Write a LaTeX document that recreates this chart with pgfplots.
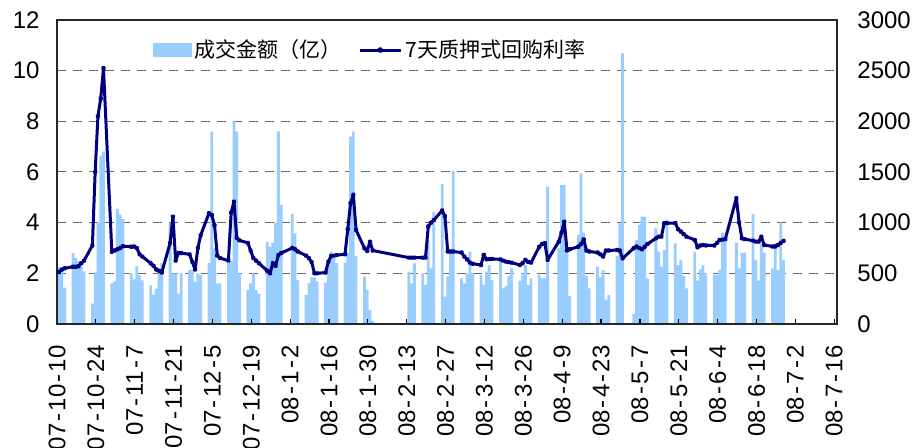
\documentclass[border=0pt]{standalone}
\usepackage{fontspec}
\setmainfont{Liberation Sans}
\newfontfamily\cjk{Noto Sans CJK SC}
\usepackage{pgfplots}
\usepackage{pgfplotstable}
\pgfplotsset{compat=1.18}

\definecolor{barblue}{RGB}{153,204,255}
\definecolor{navyline}{RGB}{0,0,128}
\definecolor{gridgray}{RGB}{105,105,105}

\newcommand{\hy}{\hspace{1.1pt}-\hspace{1.1pt}}

% trading day index d: days since 2007-10-10
\pgfplotstableread{
d v
0 560
1 540
2 360
5 700
6 650
7 620
8 560
9 520
12 200
13 510
14 1000
15 1660
16 1700
19 400
20 420
21 1135
22 1080
23 1036
26 500
27 440
28 570
29 480
30 430
33 380
34 290
35 350
36 500
37 600
40 1000
41 500
42 500
43 300
44 500
47 533
48 533
49 418
50 500
51 480
54 600
55 1898
56 747
57 401
58 401
61 600
62 620
63 2000
64 1900
65 500
68 335
69 401
70 500
71 335
72 300
75 810
76 760
77 800
78 1000
79 1900
80 1175
84 1086
85 895
86 434
89 286
90 401
91 461
92 461
93 420
96 408
97 600
98 711
99 664
100 600
103 605
104 700
105 1849
106 1898
107 671
110 467
111 336
112 138
113 30
126 517
127 401
128 599
131 500
132 385
133 829
134 549
135 1109
138 1382
139 270
140 470
141 700
142 1510
145 451
146 400
147 500
148 714
149 500
152 484
153 385
154 517
155 582
156 434
159 650
160 352
161 375
162 474
163 550
166 428
167 507
168 582
169 385
170 450
173 484
174 451
175 451
176 1355
180 747
181 1372
182 1372
183 700
184 276
187 878
188 1487
189 901
190 474
191 352
194 566
195 461
196 533
197 237
198 286
201 671
202 994
203 2671
207 99
208 829
209 977
210 1059
211 1059
212 451
215 944
216 714
217 566
218 730
219 1026
222 796
223 582
224 632
225 474
226 352
229 711
230 428
231 540
232 582
233 500
236 484
237 484
238 533
239 901
240 836
244 803
245 549
246 700
247 704
250 1086
251 632
252 428
253 796
254 704
257 549
258 796
259 533
260 1000
261 632
}\volume

\pgfplotstableread{
d v
0 2.05
1 2.15
2 2.2
5 2.26
6 2.26
7 2.28
8 2.4
9 2.5
12 3.1
13 6.0
14 8.2
15 8.9
16 10.1
19 2.85
20 2.9
21 2.95
22 3.0
23 3.07
26 3.05
27 3.06
28 3.0
29 2.75
30 2.66
33 2.4
34 2.3
35 2.15
36 2.1
37 2.03
40 3.2
41 4.24
42 2.5
43 2.8
44 2.8
47 2.75
48 2.45
49 2.15
50 3.0
51 3.5
54 4.37
55 4.3
56 3.9
57 2.7
58 2.6
61 2.5
62 4.4
63 4.83
64 3.4
65 3.3
68 3.2
69 2.9
70 2.6
71 2.5
72 2.4
75 2.1
76 2.0
77 2.4
78 2.3
79 2.72
80 2.8
84 3.0
85 2.95
86 2.86
89 2.7
90 2.6
91 2.44
92 2.0
93 2.0
96 2.03
97 2.46
98 2.69
99 2.7
100 2.72
103 2.75
104 3.74
105 4.77
106 5.1
107 3.71
110 2.99
111 2.88
112 3.25
113 2.9
126 2.62
127 2.62
128 2.62
131 2.62
132 2.62
133 3.85
134 4.0
135 4.1
138 4.48
139 4.26
140 2.86
141 2.86
142 2.86
145 2.82
146 2.66
147 2.55
148 2.42
149 2.38
152 2.33
153 2.73
154 2.55
155 2.56
156 2.57
159 2.55
160 2.5
161 2.46
162 2.44
163 2.42
166 2.33
167 2.4
168 2.53
169 2.45
170 2.42
173 3.05
174 3.16
175 3.19
176 2.53
180 3.25
181 3.6
182 4.04
183 2.9
184 2.95
187 3.05
188 3.15
189 3.34
190 2.9
191 2.86
194 2.82
195 2.75
196 2.66
197 2.9
198 2.9
201 2.92
202 2.9
203 2.59
207 2.99
208 3.06
209 3.0
210 2.95
211 3.05
212 3.16
215 3.38
216 3.45
217 3.45
218 3.98
219 3.98
222 3.98
223 3.74
224 3.65
225 3.55
226 3.45
229 3.32
230 3.03
231 3.1
232 3.12
233 3.1
236 3.1
237 3.2
238 3.32
239 3.33
240 3.35
244 4.97
245 4.0
246 3.38
247 3.35
250 3.29
251 3.25
252 3.25
253 3.45
254 3.12
257 3.06
258 3.06
259 3.12
260 3.2
261 3.28
}\repo

\pgfplotsset{
  twin/.style={
    scale only axis,
    width=390pt, height=152pt,
    at={(0pt,0pt)}, anchor=south west,
    xmin=0, xmax=281,
    tick label style={font=\fontsize{12}{14}\selectfont},
    /pgf/number format/assume math mode=true,
    /pgf/number format/1000 sep={},
    scaled y ticks=false,
  }
}

\begin{document}
\begin{tikzpicture}
% volume bars on the right axis, drawn first
\begin{axis}[twin,
  ymin=0, ymax=3000, ytick={0,500,...,3000},
  ytick pos=right, yticklabel pos=right,
  xtick=\empty,
  axis line style={draw=none},
  major tick length=0pt,
  ymajorgrids,
  grid style={gridgray, line width=0.5pt, dash pattern=on 4.5pt off 3.5pt},
  yticklabel style={anchor=west, inner sep=0pt},
  yticklabel shift=10pt,
]
\addplot[ybar, bar width=1, bar shift=0pt, fill=barblue, draw=none]
  table[x expr=\thisrow{d}+0.75, y=v] {\volume};
\end{axis}

% repo rate on the left axis
\begin{axis}[twin,
  ymin=0, ymax=12, ytick={0,2,...,12},
  ytick pos=left, yticklabel pos=left,
  xtick={0,14,...,280},
  xticklabels={07\hy10\hy10,07\hy10\hy24,07\hy11\hy7,07\hy11\hy21,07\hy12\hy5,07\hy12\hy19,08\hy1\hy2,08\hy1\hy16,08\hy1\hy30,08\hy2\hy13,08\hy2\hy27,08\hy3\hy12,08\hy3\hy26,08\hy4\hy9,08\hy4\hy23,08\hy5\hy7,08\hy5\hy21,08\hy6\hy4,08\hy6\hy18,08\hy7\hy2,08\hy7\hy16},
  xtick pos=bottom, tick align=inside,
  major tick length=2.5pt,
  x tick style={black, line width=0.6pt},
  y tick style={draw=none},
  axis line style={black!85, line width=0.75pt},
  xticklabel style={rotate=90, anchor=east, inner sep=0pt},
  xticklabel shift=10.5pt,
  yticklabel style={anchor=east, inner sep=0pt},
  yticklabel shift=8.5pt,
  legend columns=2,
  legend style={draw=none, fill=none, at={(0.122,0.901)}, anchor=west,
    inner sep=0pt, font=\cjk\fontsize{10.5}{12}\selectfont,
    nodes={inner sep=1.5pt},
    /tikz/every even column/.append style={column sep=7pt}},
  legend cell align=left,
]
\addlegendimage{legend image code/.code={\fill[barblue] (0pt,-3.25pt) rectangle (19pt,3.25pt);}}
\addlegendentry{成交金额（亿）}
\addplot[navyline, line width=1.5pt, line join=round, mark=*, mark size=0.5pt,
  legend image code/.code={\draw[navyline, line width=1.5pt] (0pt,0pt) -- (20.5pt,0pt);
    \fill[navyline] (10.25pt,0pt) circle (0.8pt);}]
  table[x expr=\thisrow{d}+0.75, y=v] {\repo};
\addlegendentry{7天质押式回购利率}
\end{axis}
\pgfresetboundingbox
\path[use as bounding box] (-28.5pt,-62pt) rectangle (430.5pt,162pt);
\end{tikzpicture}
\end{document}
